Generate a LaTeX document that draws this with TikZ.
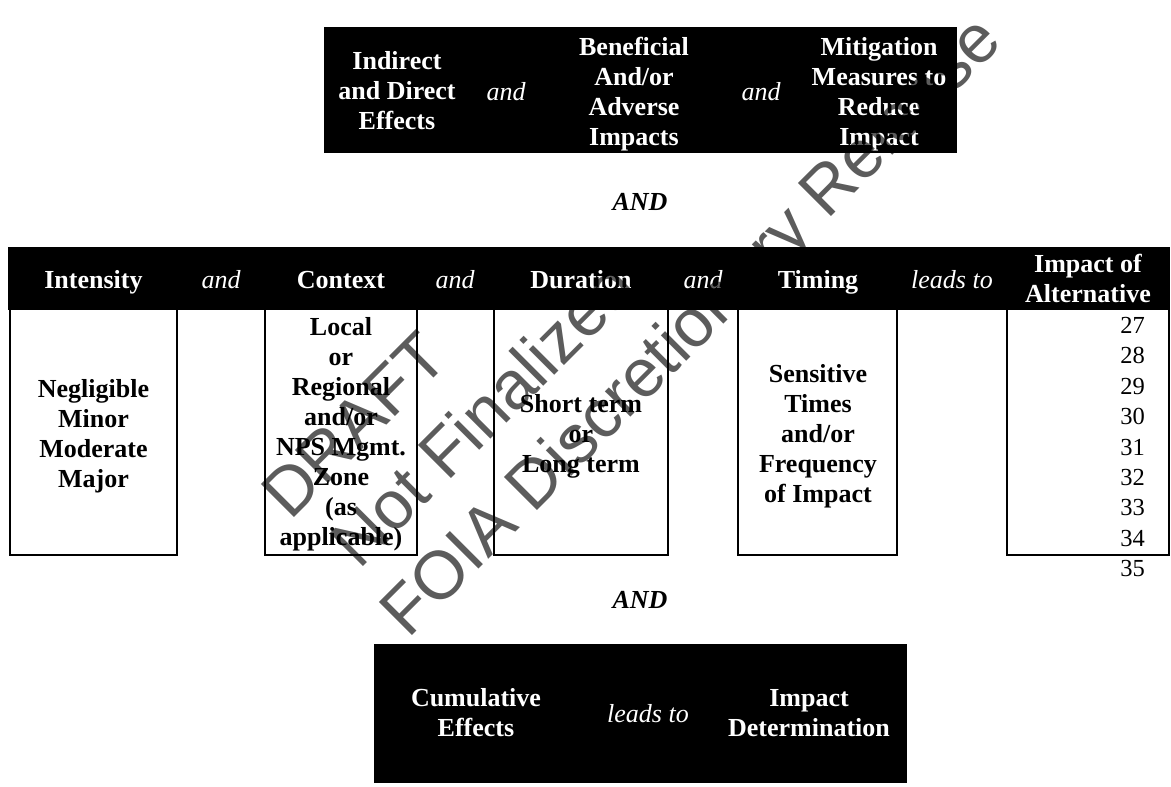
\documentclass[tikz,border=0pt]{standalone}
\usepackage{fontspec}
\setmainfont{Liberation Serif}
\newfontfamily\wmfont{Liberation Sans}
\begin{document}
\begin{tikzpicture}[x=1pt,y=-1pt,
  cell/.style={font=\fontsize{26}{30}\selectfont\bfseries, align=center, inner sep=0pt},
  wcell/.style={cell, text=white},
  conj/.style={font=\fontsize{26}{30}\selectfont\itshape, inner sep=0pt, anchor=base},
  wconj/.style={conj, text=white},
  bigand/.style={font=\fontsize{26}{30}\selectfont\bfseries\itshape, inner sep=0pt, anchor=base},
  band/.style={fill=black, draw=none},
  colbox/.style={draw=black, line width=2.5pt, fill=white},
  lineno/.style={font=\fontsize{24.5}{30}\selectfont, anchor=base east, inner sep=0pt},
  wmark/.style={font=\wmfont\fontsize{68}{80}\selectfont, text=black, text opacity=0.64,
    rotate=45, anchor=base west, inner sep=0pt}
]
\useasboundingbox (0,0) rectangle (1171,787);

% upper banner
\fill[band] (324,27) rectangle (957,153);
\node[wcell] (indirect) at (397,91) {Indirect\\and Direct\\Effects};
\node[wconj] (and1) at (506,100) {and};
\node[wcell] (benef) at (634,94) {Beneficial\\And/or\\Adverse\\Impacts};
\node[wconj] (and2) at (761,100) {and};
\node[wcell] (mitig) at (879,94) {Mitigation\\Measures to\\Reduce\\Impact};

\node[bigand] (andtop) at (640,210) {AND};

% factor columns
\draw[colbox] (10,300) rectangle (177,555);
\draw[colbox] (265,300) rectangle (417,555);
\draw[colbox] (494,300) rectangle (668,555);
\draw[colbox] (738,300) rectangle (897,555);
\draw[colbox] (1007,300) rectangle (1169,555);

% header band
\fill[band] (8,247) rectangle (1170,310);
\node[wcell, anchor=base] (intensity) at (93.5,288) {Intensity};
\node[wconj] (and3) at (221,288) {and};
\node[wcell, anchor=base] (context) at (341,288) {Context};
\node[wconj] (and4) at (455,288) {and};
\node[wcell, anchor=base] (duration) at (581,288) {Duration};
\node[wconj] (and5) at (703,288) {and};
\node[wcell, anchor=base] (timing) at (818,288) {Timing};
\node[wconj] (leads1) at (952,288) {leads to};
\node[wcell] (impalt) at (1088,278.6) {Impact of\\Alternative};

% column contents
\node[cell] (levels) at (93.5,436) {Negligible\\Minor\\Moderate\\Major};
\node[cell] (scope) at (341,434) {Local\\or\\Regional\\and/or\\NPS Mgmt.\\Zone\\(as\\applicable)};
\node[cell] (term) at (581,436) {Short term\\or\\Long term};
\node[cell] (times) at (818,436) {Sensitive\\Times\\and/or\\Frequency\\of Impact};

% line numbers
\foreach \n [count=\k from 0] in {27,...,35}
  \node[lineno] (ln\n) at (1145,333.4+30.4*\k) {\n};

\node[bigand] (andbot) at (640,608) {AND};

% lower banner
\fill[band] (374,644) rectangle (907,783);
\node[wcell] (cumul) at (476,713) {Cumulative\\Effects};
\node[wconj] (leads2) at (648,722) {leads to};
\node[wcell] (determ) at (809,713) {Impact\\Determination};

% watermark
\node[wmark] (wm1) at (290,522) {DRAFT};
\node[wmark] (wm2) at (359,571) {Not Finalized};
\node[wmark] (wm3) at (408,640) {FOIA Discretionary Release};
\end{tikzpicture}
\end{document}
